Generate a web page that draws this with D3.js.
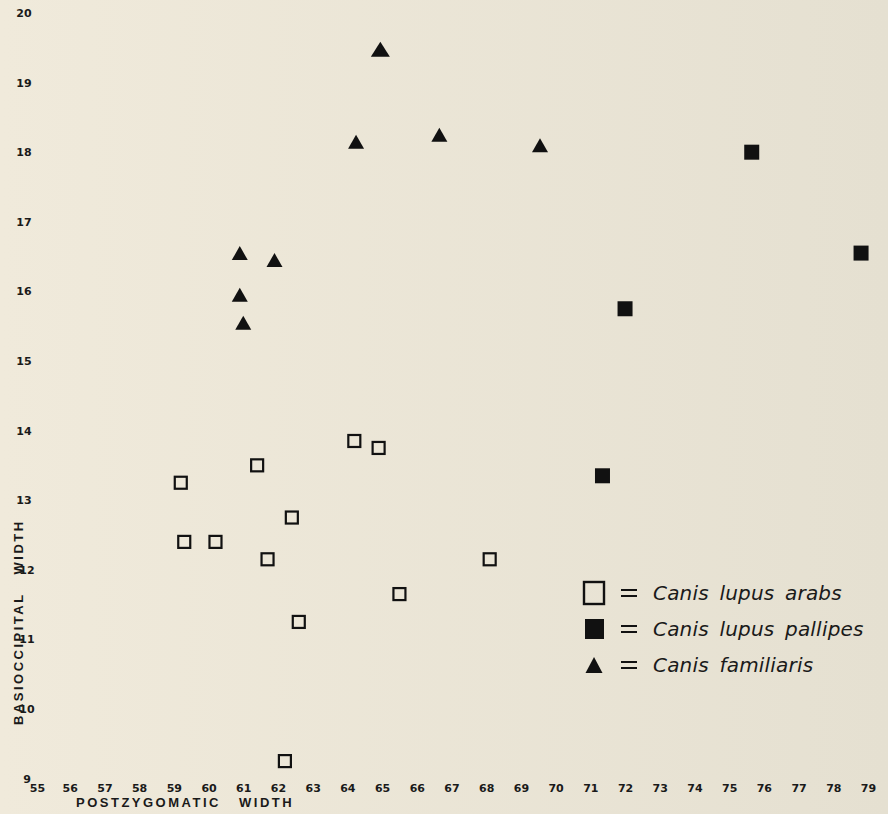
<!DOCTYPE html>
<html>
<head>
<meta charset="utf-8">
<script src="https://cdn.jsdelivr.net/npm/d3@7"></script>
<style>
  html, body { margin: 0; padding: 0; background: #ede7d8; }
  svg { display: block; }
  .tick text { font-family: "DejaVu Sans", sans-serif; font-weight: bold; font-size: 11px; fill: #1a1a1a; }
  .title { font-family: "Liberation Sans", sans-serif; font-weight: bold; font-size: 13px; fill: #1a1a1a; letter-spacing: 2.5px; word-spacing: 12px; }
  .legend text { font-family: "DejaVu Sans", sans-serif; font-style: italic; font-size: 20px; fill: #1a1a1a; word-spacing: 4px; letter-spacing: 0.2px; }
</style>
</head>
<body>
<div class="chart"></div>
<script>
// postzygomatic width (x) vs basioccipital width (y)
var arabs = [
  [59.2, 13.25], [59.3, 12.4], [60.2, 12.4], [61.4, 13.5], [61.7, 12.15], [62.4, 12.75],
  [62.6, 11.25], [64.2, 13.85], [64.9, 13.75], [65.5, 11.65], [68.1, 12.15], [62.2, 9.25]
];
var pallipes = [
  [75.65, 18.0], [78.8, 16.55], [72.0, 15.75], [71.35, 13.35]
];
var familiaris = [
  [64.95, 19.48], [64.25, 18.15], [66.65, 18.25], [69.55, 18.1],
  [60.9, 16.55], [61.9, 16.45], [60.9, 15.95], [61.0, 15.55]
];
var xTicks = [55, 56, 57, 58, 59, 60, 61, 62, 63, 64, 65, 66, 67, 68, 69, 70, 71, 72, 73, 74, 75, 76, 77, 78, 79];
var yTicks = [9, 10, 11, 12, 13, 14, 15, 16, 17, 18, 19, 20];
var legendNames = ['Canis lupus arabs', 'Canis lupus pallipes', 'Canis familiaris'];

function init() {
  var width = 888,
      height = 814,
      ink = '#111';

  var x = d3.scaleLinear().domain([55, 79]).range([35, 868]),
      y = d3.scaleLinear().domain([9, 20]).range([778.5, 13]);

  var svg = d3.select('.chart')
    .append('svg')
      .attr('width', width)
      .attr('height', height);

  var grad = svg.append('defs').append('linearGradient')
      .attr('id', 'paper');
  grad.append('stop').attr('offset', '0%').attr('stop-color', '#f0eadb');
  grad.append('stop').attr('offset', '100%').attr('stop-color', '#e5e0d1');
  svg.append('rect')
      .attr('width', width)
      .attr('height', height)
      .attr('fill', 'url(#paper)');

  // axes: labels only, no lines
  var xAxis = svg.append('g')
      .attr('transform', 'translate(0, 788)')
      .call(d3.axisBottom(x).tickValues(xTicks).tickSize(0).tickFormat(d3.format('d')));
  xAxis.select('.domain').remove();
  xAxis.selectAll('text').attr('y', 0).attr('dy', '0.36em');
  xAxis.selectAll('.tick text').filter(function(d) { return d === 55; }).attr('dx', 2);

  var yAxis = svg.append('g')
      .attr('transform', 'translate(24, 0)')
      .call(d3.axisLeft(y).tickValues(yTicks).tickSize(0).tickFormat(d3.format('d')));
  yAxis.select('.domain').remove();
  yAxis.selectAll('text').attr('x', 0).attr('text-anchor', 'middle');
  yAxis.selectAll('.tick text').filter(function(d) { return d <= 12; }).attr('x', 3);

  svg.append('text')
      .attr('class', 'title')
      .attr('x', 76)
      .attr('y', 807)
      .text('POSTZYGOMATIC WIDTH');

  svg.append('text')
      .attr('class', 'title')
      .attr('transform', 'translate(23, 725) rotate(-90)')
      .text('BASIOCCIPITAL WIDTH');

  // markers
  function triangle(w, h) {
    return 'M0,' + (-h / 2) + 'L' + (w / 2) + ',' + (h / 2) + 'L' + (-w / 2) + ',' + (h / 2) + 'Z';
  }

  var s = 12;
  svg.append('g').selectAll('rect.arabs').data(arabs)
    .enter()
      .append('rect')
        .attr('class', 'arabs')
        .attr('x', function(d) { return x(d[0]) - s / 2; })
        .attr('y', function(d) { return y(d[1]) - s / 2; })
        .attr('width', s)
        .attr('height', s)
        .attr('fill', 'none')
        .attr('stroke', ink)
        .attr('stroke-width', 2.2);

  var f = 15;
  svg.append('g').selectAll('rect.pallipes').data(pallipes)
    .enter()
      .append('rect')
        .attr('class', 'pallipes')
        .attr('x', function(d) { return x(d[0]) - f / 2; })
        .attr('y', function(d) { return y(d[1]) - f / 2; })
        .attr('width', f)
        .attr('height', f)
        .attr('fill', ink);

  svg.append('g').selectAll('path.familiaris').data(familiaris)
    .enter()
      .append('path')
        .attr('class', 'familiaris')
        .attr('transform', function(d) { return 'translate(' + x(d[0]) + ',' + y(d[1]) + ')'; })
        .attr('d', function(d, i) { return i === 0 ? triangle(19, 15) : triangle(16, 14); })
        .attr('fill', ink);

  // legend
  var legend = svg.append('g')
      .attr('class', 'legend')
      .attr('transform', 'translate(594, 593)');
  var rows = legend.selectAll('g').data(legendNames)
    .enter()
      .append('g')
        .attr('transform', function(d, i) { return 'translate(0,' + (i * 36) + ')'; });

  rows.filter(function(d, i) { return i === 0; })
    .append('rect')
      .attr('x', -10).attr('y', -11).attr('width', 20).attr('height', 22)
      .attr('fill', 'none').attr('stroke', ink).attr('stroke-width', 2.4);
  rows.filter(function(d, i) { return i === 1; })
    .append('rect')
      .attr('x', -9).attr('y', -10).attr('width', 19).attr('height', 20)
      .attr('fill', ink);
  rows.filter(function(d, i) { return i === 2; })
    .append('path')
      .attr('d', triangle(17, 16))
      .attr('fill', ink);

  rows.append('rect')
      .attr('x', 27).attr('y', -4).attr('width', 16).attr('height', 2)
      .attr('fill', ink);
  rows.append('rect')
      .attr('x', 27).attr('y', 2).attr('width', 16).attr('height', 2)
      .attr('fill', ink);

  rows.append('text')
      .attr('x', 59)
      .attr('y', 7)
      .text(function(d) { return d; });
}

d3.select(window).on('load', init);
</script>
</body>
</html>
